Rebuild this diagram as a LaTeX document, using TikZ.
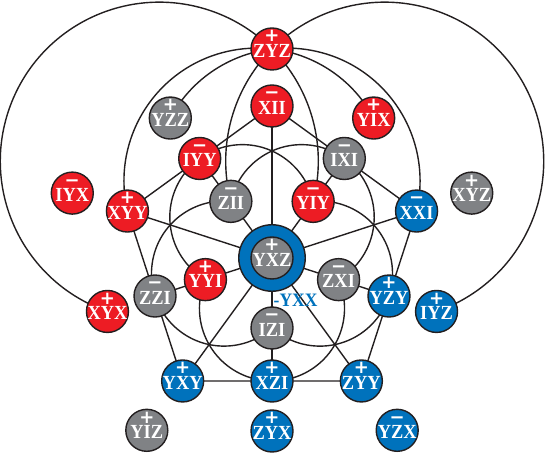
\documentclass[tikz,border=0pt]{standalone}
\usepackage{fontspec}
\setmainfont{Liberation Serif}
\newfontfamily\signfont{DejaVu Sans}
\newfontfamily\labfont{Liberation Serif}[FakeStretch=0.92]
\definecolor{pred}{RGB}{237,28,36}
\definecolor{pgray}{RGB}{128,130,133}
\definecolor{pblue}{RGB}{0,114,188}
\definecolor{ink}{RGB}{35,31,32}
\pgfdeclarelayer{bg}
\pgfsetlayers{bg,main}
\tikzset{
  qb/.style={circle, draw=ink, line width=1.4pt, minimum size=42pt, inner sep=0pt},
  lab/.style={anchor=south, text=white, align=center, font=\labfont\bfseries\fontsize{20}{20}\selectfont, inner sep=0pt},
  conn/.style={draw=ink, line width=1.4pt},
}
\newcommand\sgnfmt{\signfont\bfseries\fontsize{18}{18}\selectfont}
\newcommand\pauli[5]{%
  \node[qb, fill=#3] (#1) at (#2) {};
  \node[lab] (#1-t) at ([yshift=-8.3pt]#1.center) {{\sgnfmt #4}\\[-4.8pt]#5};
}
\begin{document}
\begin{tikzpicture}[x=1pt,y=1pt]
\begin{scope}[shift={(272,199)}]
\useasboundingbox (-272,-199) rectangle (273,258);
% nodes
\pauli{ZYZ}{90:209}{pred}{+}{ZYZ}
\pauli{XII}{90:152}{pred}{−}{XII}
\pauli{YZZ}{126:173}{pgray}{+}{YZZ}
\pauli{YIX}{54:173}{pred}{+}{YIX}
\pauli{IYY}{126:123}{pred}{−}{IYY}
\pauli{IXI}{54:123}{pgray}{−}{IXI}
\pauli{IYX}{162:210}{pred}{−}{IYX}
\pauli{XYZ}{18:210}{pgray}{+}{XYZ}
\pauli{XYY}{162:152}{pred}{+}{XYY}
\pauli{XXI}{18:152}{pblue}{−}{XXI}
\pauli{ZII}{126:70}{pgray}{−}{ZII}
\pauli{YIY}{54:70}{pred}{−}{YIY}
\pauli{YYI}{198:70}{pred}{+}{YYI}
\pauli{ZXI}{342:70}{pgray}{−}{ZXI}
\pauli{IZI}{270:70}{pgray}{−}{IZI}
\pauli{ZZI}{198:123}{pgray}{−}{ZZI}
\pauli{YZY}{342:123}{pblue}{+}{YZY}
\pauli{XZI}{270:123}{pblue}{+}{XZI}
\pauli{XYX}{198:173}{pred}{+}{XYX}
\pauli{IYZ}{342:173}{pblue}{+}{IYZ}
\pauli{YXY}{234:152}{pblue}{+}{YXY}
\pauli{ZYY}{306:152}{pblue}{+}{ZYY}
\pauli{YIZ}{234:213}{pgray}{+}{YIZ}
\pauli{ZYX}{270:173}{pblue}{+}{ZYX}
\pauli{YZX}{306:213}{pblue}{−}{YZX}
\node[circle, draw=ink, line width=1.4pt, fill=pblue, minimum size=66.5pt, inner sep=0pt] (ring) at (0,0) {};
\pauli{YXZ}{0,0}{pgray}{+}{YXZ}
\node[anchor=base west, text=pblue, font=\labfont\bfseries\fontsize{19}{19}\selectfont, inner sep=0pt] (yxx) at (1.5,-49) {-YXX};
% connectors
\begin{pgfonlayer}{bg}
\draw[conn] (XII.center) -- (XYY.center) -- (YXY.center) -- (ZYY.center) -- (XXI.center) -- cycle;
\draw[conn] (XII.center) -- (XZI.center);
\draw[conn] (XYY.center) -- (YZY.center);
\draw[conn] (XXI.center) -- (ZZI.center);
\draw[conn] (YXY.center) -- (IXI.center);
\draw[conn] (ZYY.center) -- (IYY.center);
\draw[conn] (XYX.center) arc[start angle=250.97, end angle=-14.65, radius=158.98pt];
\draw[conn] (IYZ.center) arc[start angle=-70.97, end angle=194.65, radius=158.98pt];
\draw[conn] (XYY.center) arc[start angle=193.12, end angle=28.25, radius=132.77pt];
\draw[conn] (XXI.center) arc[start angle=-13.12, end angle=151.75, radius=132.77pt];
\draw[conn] (YIY.center) arc[start angle=12.59, end angle=239.41, radius=72.54pt];
\draw[conn] (ZXI.center) arc[start angle=-59.41, end angle=167.41, radius=72.54pt];
\draw[conn] (ZII.center) arc[start angle=84.59, end angle=311.41, radius=72.54pt];
\draw[conn] (YYI.center) arc[start angle=156.59, end angle=383.41, radius=72.54pt];
\draw[conn] (IZI.center) arc[start angle=228.59, end angle=455.41, radius=72.54pt];
\end{pgfonlayer}
\end{scope}
\end{tikzpicture}
\end{document}
